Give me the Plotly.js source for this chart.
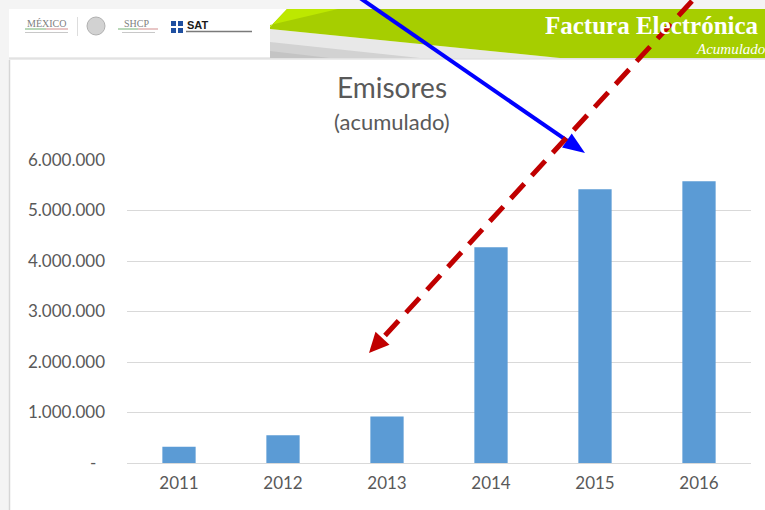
<!DOCTYPE html>
<html><head><meta charset="utf-8">
<script src="https://cdn.plot.ly/plotly-3.0.1.min.js"></script>
<style>html,body{margin:0;padding:0;background:#f4f4f4;} #chart{width:765px;height:510px;}</style>
</head><body><div id="chart"></div>
<script>
// ---- data ----
const years = ['2011', '2012', '2013', '2014', '2015', '2016'];
const emisores = [320000, 550000, 920000, 4270000, 5420000, 5580000];
const yTickVals = [0, 1000000, 2000000, 3000000, 4000000, 5000000, 6000000];
const yTickText = ['-\u00a0\u00a0', '1.000.000', '2.000.000', '3.000.000', '4.000.000', '5.000.000', '6.000.000'];
const chartTitle = 'Emisores';
const chartSubtitle = '(acumulado)';
const bannerTitle = 'Factura Electrónica';
const bannerSubtitle = 'Acumulado';

// ---- geometry helpers (decoration only) ----
const W = 765, H = 510;
const M = {l: 127, r: 14, t: 160, b: 47};
const PW = W - M.l - M.r, PH = H - M.t - M.b;
const fx = x => (x - M.l) / PW;
const fy = y => (H - M.b - y) / PH;
function poly(pts, fill, opts) {
  const d = pts.map((p, i) => (i ? 'L' : 'M') + fx(p[0]).toFixed(5) + ',' + fy(p[1]).toFixed(5)).join(' ') + ' Z';
  return Object.assign({type: 'path', xref: 'paper', yref: 'paper', path: d, fillcolor: fill,
    line: {width: 0}, layer: 'below'}, opts || {});
}
function seg(x0, y0, x1, y1, color, width, dash, layer) {
  return {type: 'line', xref: 'paper', yref: 'paper', x0: fx(x0), y0: fy(y0), x1: fx(x1), y1: fy(y1),
    line: {color: color, width: width, dash: dash || 'solid'}, layer: layer || 'below'};
}
function arrow(x0, y0, x1, y1, color, width, dash, hl, hw) {
  const L = Math.hypot(x1 - x0, y1 - y0), ux = (x1 - x0) / L, uy = (y1 - y0) / L;
  const bx = x1 - hl * ux, by = y1 - hl * uy, nx = -uy, ny = ux;
  return [
    seg(x0, y0, bx + ux * 2, by + uy * 2, color, width, dash, 'above'),
    poly([[x1, y1], [bx + hw * nx, by + hw * ny], [bx - hw * nx, by - hw * ny]], color, {layer: 'above'})
  ];
}

const shapes = [
  // white header band and white chart body
  poly([[9, 9], [765, 9], [765, 57], [9, 57]], '#ffffff'),
  poly([[10, 60], [765, 60], [765, 510], [10, 510]], '#ffffff'),
  seg(9, 58.5, 765, 58.5, '#e2e2e2', 2),
  seg(9.5, 60, 9.5, 510, '#d6d6d6', 1.5),
  // banner
  poly([[270, 29], [560, 58], [270, 58]], '#e8e8e8'),
  poly([[270, 42], [420, 58], [270, 58]], '#d2d2d2'),
  poly([[270, 51], [330, 58], [270, 58]], '#c4c4c4'),
  poly([[287, 9], [765, 9], [765, 58], [560, 58], [270, 29], [270, 27]], '#a6ce00'),
  poly([[287, 9], [338, 9], [270, 25], [270, 27]], '#bde800'),
  // logos (approximate)
  seg(25, 29, 46, 29, '#8bbf8b', 1.2), seg(46, 29, 68, 29, '#d9a0a0', 1.2),
  seg(25, 32.5, 68, 32.5, '#c8c8c8', 1),
  seg(77.5, 17, 77.5, 36, '#dddddd', 1),
  {type: 'circle', xref: 'paper', yref: 'paper', x0: fx(87), x1: fx(105), y0: fy(17), y1: fy(35),
    fillcolor: '#d2d2d2', line: {color: '#b0b0b0', width: 1}, layer: 'below'},
  seg(118, 29, 138, 29, '#8bbf8b', 1.2), seg(138, 29, 158, 29, '#d9a0a0', 1.2),
  seg(122, 32.5, 155, 32.5, '#c8c8c8', 1),
  poly([[171, 21], [176, 21], [176, 26], [171, 26]], '#1f4fa0'),
  poly([[178, 21], [183, 21], [183, 26], [178, 26]], '#1f4fa0'),
  poly([[171, 28], [176, 28], [176, 33], [171, 33]], '#1f4fa0'),
  poly([[178, 28], [183, 28], [183, 33], [178, 33]], '#1f4fa0'),
  seg(186, 31.5, 252, 31.5, '#7a7a7a', 1.3)
];
shapes.push(...arrow(360, -2, 585, 153, '#0000ff', 4, 'solid', 22, 8.5));
shapes.push(...arrow(692, 1, 369, 353, '#c00000', 5, '20px,11px', 20, 9.5));

const gray = '#595959';
const annotations = [
  {xref: 'paper', yref: 'paper', x: fx(392), y: fy(121), text: chartSubtitle, showarrow: false,
    xanchor: 'center', yanchor: 'middle', font: {family: 'Lato', size: 22, color: gray}},
  {xref: 'paper', yref: 'paper', x: fx(543), y: fy(25), text: '<b>' + bannerTitle + '</b>', showarrow: false,
    xanchor: 'left', yanchor: 'middle', font: {family: 'Liberation Serif', size: 25, color: '#ffffff'}},
  {xref: 'paper', yref: 'paper', x: fx(694), y: fy(49), text: '<i>' + bannerSubtitle + '</i>', showarrow: false,
    xanchor: 'left', yanchor: 'middle', font: {family: 'Liberation Serif', size: 15, color: '#ffffff'}},
  {xref: 'paper', yref: 'paper', x: fx(25), y: fy(23), text: 'MÉXICO', showarrow: false,
    xanchor: 'left', yanchor: 'middle', font: {family: 'Liberation Serif', size: 10, color: '#808080'}},
  {xref: 'paper', yref: 'paper', x: fx(122), y: fy(23), text: 'SHCP', showarrow: false,
    xanchor: 'left', yanchor: 'middle', font: {family: 'Liberation Serif', size: 10, color: '#808080'}},
  {xref: 'paper', yref: 'paper', x: fx(185), y: fy(25), text: '<b>SAT</b>', showarrow: false,
    xanchor: 'left', yanchor: 'middle', font: {family: 'Liberation Sans', size: 11, color: '#1a1a1a'}}
];

const trace = {
  type: 'bar', x: years, y: emisores,
  marker: {color: '#5b9bd5'}, hoverinfo: 'skip'
};

const layout = {
  width: W, height: H,
  margin: M,
  paper_bgcolor: '#f4f4f4', plot_bgcolor: 'rgba(0,0,0,0)',
  showlegend: false,
  bargap: 0.68,
  title: {text: chartTitle, font: {family: 'Lato', size: 28, color: gray},
    xref: 'container', yref: 'container', x: 392 / W, y: 1 - 88 / H, xanchor: 'center', yanchor: 'middle'},
  xaxis: {type: 'category', showgrid: false, showline: false, zeroline: false, ticks: '',
    tickfont: {family: 'Lato', size: 17, color: gray}, ticklabelstandoff: 8},
  yaxis: {range: [0, 6000000], tickvals: yTickVals, ticktext: yTickText, showline: false, ticks: '',
    gridcolor: '#d9d9d9', gridwidth: 1, zeroline: true, zerolinecolor: '#d9d9d9', zerolinewidth: 1,
    tickfont: {family: 'Lato', size: 17, color: gray}, ticklabelstandoff: 21},
  shapes: shapes,
  annotations: annotations
};

Plotly.newPlot('chart', [trace], layout, {displayModeBar: false, staticPlot: true});
</script>
</body></html>
